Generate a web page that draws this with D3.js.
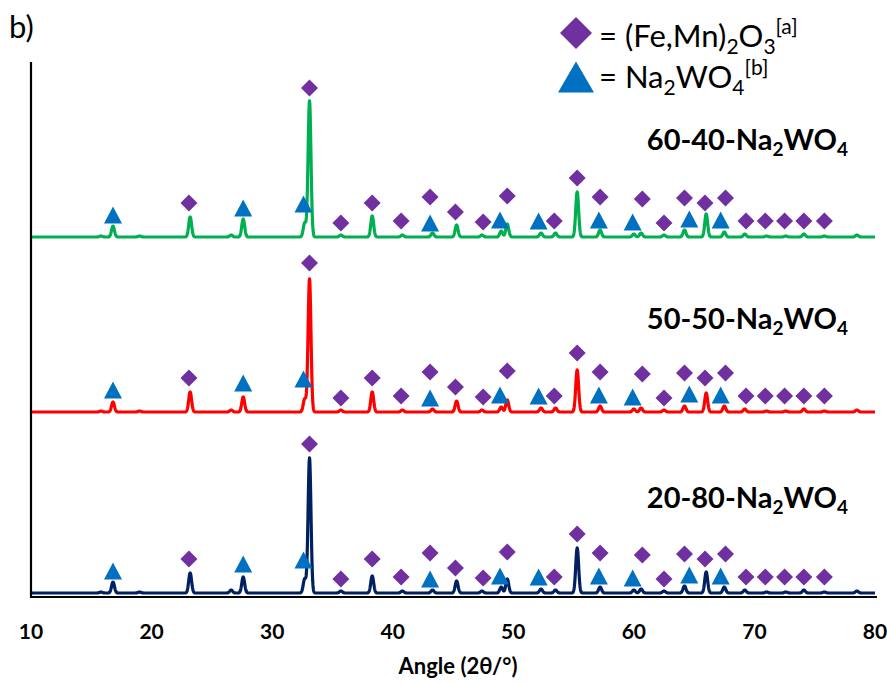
<!DOCTYPE html>
<style>
body { margin: 0; background: #fff; }
text { font-family: Lato, "Open Sans", sans-serif; }
</style>
<svg width="887" height="684"></svg>
<script src="https://d3js.org/d3.v7.min.js"></script>
<script>

// peak positions (2theta, degrees) shared by the three patterns
var peakAngles = [15.8, 16.8, 19.0, 23.2, 26.6, 27.6, 32.7, 33.1, 35.7, 38.3, 40.8, 43.3, 45.3, 47.4, 49.0, 49.5,
                  52.3, 53.5, 55.3, 57.2, 60.0, 60.6, 62.5, 64.2, 66.0, 67.5, 69.2, 71.0, 72.6, 74.1, 75.8, 78.5];

// peak heights (a.u.) per sample
var green6040 = [1, 11, 1, 20, 2, 18, 14, 136, 2, 21, 2, 4, 12, 2, 6, 13, 4, 4, 45, 7, 3, 4, 2, 7, 23, 5, 3, 1, 1, 3, 1, 2];
var red5050   = [1, 10, 1, 20, 2, 15, 13, 133, 2, 20, 2, 3, 11, 2, 5, 12, 4, 4, 42, 6, 3, 4, 2, 6, 19, 6, 3, 1, 1, 3, 1, 2];
var navy2080  = [1, 11, 1, 20, 3, 16, 14, 135, 2, 17, 2, 3, 12, 2, 6, 14, 4, 3, 45, 6, 3, 4, 2, 7, 21, 6, 3, 1, 1, 3, 1, 2];

// vertical offsets of each pattern
var seriesNames = ["60-40-Na2WO4", "50-50-Na2WO4", "20-80-Na2WO4"];
var seriesOffsets = [360, 185, 4];

// reflection markers: angle + height above the pattern baseline
var oxideAngles  = [23.1, 33.1, 35.7, 38.3, 40.7, 43.1, 45.2, 47.5, 49.5, 53.4, 55.3, 57.2, 60.7, 62.5, 64.2, 65.9, 67.6, 69.3, 70.9, 72.5, 74.1, 75.8];
var oxideLevels  = [34, 149, 14, 34, 16, 40, 25, 15, 41, 16, 59, 40, 38, 14, 39, 34, 39, 16, 16, 16, 16, 16];
var tungAngles   = [16.8, 27.6, 32.6, 43.1, 48.9, 52.1, 57.1, 59.9, 64.6, 67.2];
var tungLevels   = [22, 29, 33, 14, 17, 16, 17, 15, 18, 17];

var xTicks = [10, 20, 30, 40, 50, 60, 70, 80];

var colors = ["#00b050", "#ff0000", "#002060"];
var series = [green6040, red5050, navy2080];

var svg = d3.select("svg"),
    margin = {top: 62, right: 12, bottom: 87, left: 31},
    width = 887 - margin.left - margin.right,
    height = 684 - margin.top - margin.bottom;

var x = d3.scaleLinear().domain([10, 80]).range([margin.left, margin.left + width]);
var y = d3.scaleLinear().domain([0, height]).range([margin.top + height, margin.top]);

// peak profile (narrow gaussian) just for drawing
var sigma = 0.12;
function profile(h, off) {
  var pts = [];
  for (var a = 10; a <= 80.0001; a += 0.02) {
    var v = 0;
    for (var i = 0; i < peakAngles.length; i++) {
      var d = a - peakAngles[i];
      if (Math.abs(d) < 1) v += h[i] * Math.exp(-d * d / (2 * sigma * sigma));
    }
    pts.push([a, v + off]);
  }
  return pts;
}

var line = d3.line()
    .x(function(d) { return x(d[0]); })
    .y(function(d) { return y(d[1]); });

series.forEach(function(h, k) {
  svg.append("path")
      .datum(profile(h, seriesOffsets[k]))
      .attr("fill", "none")
      .attr("stroke", colors[k])
      .attr("stroke-width", 3.2)
      .attr("stroke-linejoin", "round")
      .attr("d", line);
});

// markers
function diamond(r) { return "M0," + (-r) + "L" + r + ",0L0," + r + "L" + (-r) + ",0Z"; }
function triangle(w, h) { return "M0," + (-h / 2) + "L" + (w / 2) + "," + (h / 2) + "L" + (-w / 2) + "," + (h / 2) + "Z"; }

seriesOffsets.forEach(function(off) {
  var gm = svg.append("g");
  gm.selectAll(".dia")
    .data(oxideAngles.map(function(a, i) { return [a, oxideLevels[i]]; }))
    .enter().append("path")
      .attr("class", "dia")
      .attr("transform", function(d) { return "translate(" + x(d[0]) + "," + y(d[1] + off) + ")"; })
      .attr("d", diamond(8.5))
      .attr("fill", "#7030a0");
  gm.selectAll(".tri")
    .data(tungAngles.map(function(a, i) { return [a, tungLevels[i]]; }))
    .enter().append("path")
      .attr("class", "tri")
      .attr("transform", function(d) { return "translate(" + x(d[0]) + "," + y(d[1] + off) + ")"; })
      .attr("d", triangle(18, 17))
      .attr("fill", "#0070c0");
});

// axes
svg.append("line")
    .attr("x1", margin.left).attr("x2", margin.left)
    .attr("y1", margin.top).attr("y2", margin.top + height)
    .attr("stroke", "#000").attr("stroke-width", 2.2);
svg.append("line")
    .attr("x1", margin.left - 1).attr("x2", x(80) + 2)
    .attr("y1", margin.top + height).attr("y2", margin.top + height)
    .attr("stroke", "#000").attr("stroke-width", 2.2);

svg.append("g")
    .selectAll("text")
    .data(xTicks)
    .enter().append("text")
      .attr("x", function(d) { return x(d); })
      .attr("y", margin.top + height + 42)
      .attr("text-anchor", "middle")
      .attr("font-size", 21)
      .attr("font-weight", "bold")
      .text(function(d) { return d; });

svg.append("text")
    .attr("x", (x(10) + x(80)) / 2 + 5)
    .attr("y", margin.top + height + 77)
    .attr("text-anchor", "middle")
    .attr("font-size", 22)
    .attr("font-weight", "bold")
    .text("Angle (2θ/°)");

svg.append("text")
    .attr("x", 9).attr("y", 38)
    .attr("font-size", 31)
    .text("b)");

// sample labels with subscripts
var labelY = [150, 329, 508];
labelY.forEach(function(ly, k) {
  var t = svg.append("text")
      .attr("x", 848).attr("y", ly)
      .attr("text-anchor", "end")
      .attr("font-size", 29)
      .attr("font-weight", "bold");
  var name = seriesNames[k].replace("Na2WO4", "");
  t.append("tspan").text(name + "Na");
  t.append("tspan").attr("dy", 6).attr("font-size", 19).text("2");
  t.append("tspan").attr("dy", -6).text("WO");
  t.append("tspan").attr("dy", 6).attr("font-size", 19).text("4");
});

// legend
var lg = svg.append("g");
lg.append("path").attr("transform", "translate(576,33)").attr("d", diamond(16)).attr("fill", "#7030a0");
lg.append("path").attr("transform", "translate(576,77)").attr("d", triangle(36, 31)).attr("fill", "#0070c0");

var t1 = lg.append("text").attr("x", 599).attr("y", 47).attr("font-size", 31);
t1.append("tspan").text("= (Fe,Mn)");
t1.append("tspan").attr("dy", 7).attr("font-size", 21).text("2");
t1.append("tspan").attr("dy", -7).text("O");
t1.append("tspan").attr("dy", 7).attr("font-size", 21).text("3");
t1.append("tspan").attr("dy", -20).attr("font-size", 21).text("[a]");

var t2 = lg.append("text").attr("x", 599).attr("y", 88).attr("font-size", 31);
t2.append("tspan").text("= Na");
t2.append("tspan").attr("dy", 7).attr("font-size", 21).text("2");
t2.append("tspan").attr("dy", -7).text("WO");
t2.append("tspan").attr("dy", 7).attr("font-size", 21).text("4");
t2.append("tspan").attr("dy", -20).attr("font-size", 21).text("[b]");

</script>
